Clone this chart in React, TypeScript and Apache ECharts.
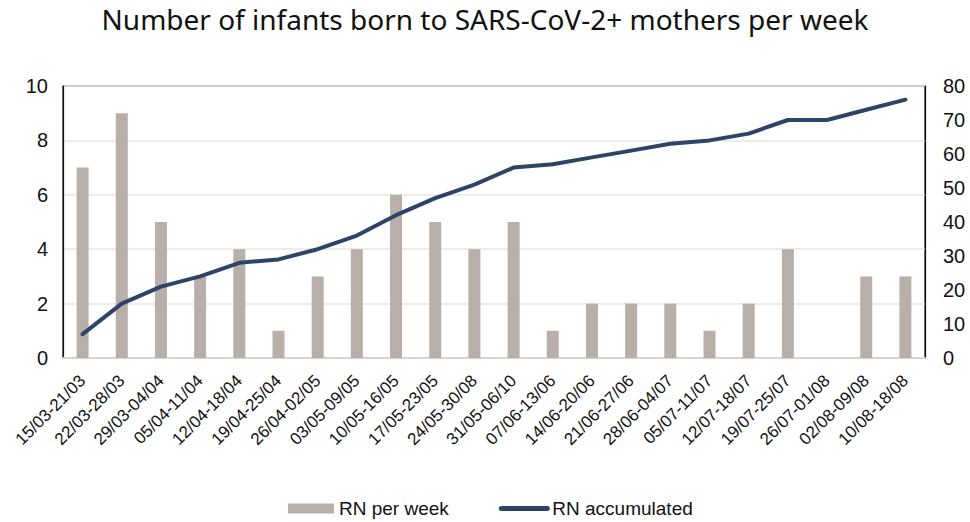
import React, { useEffect, useRef } from "react";
import * as echarts from "echarts";

const categories = [
  "15/03-21/03", "22/03-28/03", "29/03-04/04", "05/04-11/04", "12/04-18/04",
  "19/04-25/04", "26/04-02/05", "03/05-09/05", "10/05-16/05", "17/05-23/05",
  "24/05-30/08", "31/05-06/10", "07/06-13/06", "14/06-20/06", "21/06-27/06",
  "28/06-04/07", "05/07-11/07", "12/07-18/07", "19/07-25/07", "26/07-01/08",
  "02/08-09/08", "10/08-18/08",
];
const perWeek = [7, 9, 5, 3, 4, 1, 3, 4, 6, 5, 4, 5, 1, 2, 2, 2, 1, 2, 4, 0, 3, 3];
const accumulated = [7, 16, 21, 24, 28, 29, 32, 36, 42, 47, 51, 56, 57, 59, 61, 63, 64, 66, 70, 70, 73, 76];

const FONT = "Liberation Sans";

export default function App() {
  const ref = useRef<HTMLDivElement>(null);
  useEffect(() => {
    if (!ref.current) return;
    const chart = echarts.init(ref.current, null, { renderer: "svg" });
    chart.setOption({
      animation: false,
      backgroundColor: "#ffffff",
      title: {
        text: "Number of infants born to SARS-CoV-2+ mothers per week",
        left: "center",
        top: 0,
        textStyle: { fontFamily: "Noto Sans", fontSize: 28, fontWeight: "normal", color: "#111" },
      },
      grid: {
        left: 63, right: 45, top: 86, bottom: 164,
        show: true, borderColor: "#111", borderWidth: 1.2, backgroundColor: "transparent",
      },
      legend: {
        top: 494,
        left: 283,
        itemGap: 50,
        itemWidth: 46,
        itemHeight: 10,
        textStyle: { fontFamily: FONT, fontSize: 19, color: "#111" },
        data: [
          { name: "RN per week", icon: "rect" },
          { name: "RN accumulated", itemStyle: { opacity: 0 }, lineStyle: { width: 5, cap: "round" } },
        ],
      },
      xAxis: {
        type: "category",
        data: categories,
        axisLine: { show: true, lineStyle: { color: "#d8d4d0", width: 2 } },
        axisTick: { show: false },
        axisLabel: { rotate: 45, fontFamily: FONT, fontSize: 17, color: "#111", interval: 0, margin: 20 },
      },
      yAxis: [
        {
          type: "value", min: 0, max: 10, interval: 2,
          axisLine: { show: true, lineStyle: { color: "#111", width: 1.2 } },
          axisTick: { show: false },
          axisLabel: { fontFamily: FONT, fontSize: 20, color: "#111", margin: 15 },
          splitLine: { show: true, lineStyle: { color: "#e9e5e0", width: 1.5 } },
        },
        {
          type: "value", min: 0, max: 80, interval: 10,
          axisLine: { show: true, lineStyle: { color: "#111", width: 1.2 } },
          axisTick: { show: false },
          axisLabel: { fontFamily: FONT, fontSize: 20, color: "#111", margin: 18 },
          splitLine: { show: false },
        },
      ],
      series: [
        {
          name: "RN per week",
          type: "bar",
          data: perWeek,
          barWidth: 12,
          itemStyle: { color: "#b8afaa" },
        },
        {
          name: "RN accumulated",
          type: "line",
          yAxisIndex: 1,
          data: accumulated,
          symbol: "none",
          showSymbol: false,
          lineStyle: { color: "#2d4468", width: 4, cap: "round", join: "round" },
          itemStyle: { color: "#2d4468" },
        },
      ],
    });
    return () => chart.dispose();
  }, []);
  return <div ref={ref} style={{ position: "fixed", left: 0, top: 0, width: 970, height: 522 }} />;
}
